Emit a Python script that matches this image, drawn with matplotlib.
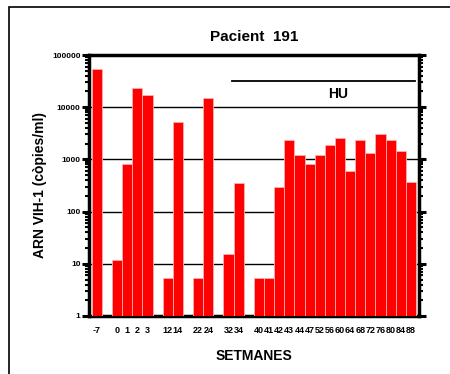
import matplotlib
matplotlib.use("Agg")
import matplotlib.pyplot as plt
import numpy as np
from matplotlib.ticker import LogLocator, NullFormatter, FixedLocator
from matplotlib.patches import Rectangle

plt.rcParams['font.family'] = ['Liberation Sans', 'DejaVu Sans']

# categorical slots ('' = empty gap)
weeks = ['-7', '', '0', '1', '2', '3', '', '12', '14', '', '22', '24', '', '32', '34', '',
         '40', '41', '42', '43', '44', '47', '52', '56', '60', '64', '68', '72', '76', '80', '84', '88']
values = [54800, None, 11.7, 815, 23400, 16900, None, 5.4, 5170, None, 5.4, 14900, None, 15.1, 358, None,
          5.4, 5.4, 292, 2380, 1230, 830, 1210, 1900, 2600, 607, 2380, 1340, 3100, 2380, 1440, 374]
hu_start, hu_end = '32', '88'
hu_level = 31800
title = 'Pacient  191'
ylabel = 'ARN VIH-1 (còpies/ml)'
xlabel = 'SETMANES'

fig = plt.figure(figsize=(4.5, 3.74), dpi=100)
# outer frame
fig.add_artist(Rectangle((9/450, 1 - 380/374), 460/450, (380-7)/374, transform=fig.transFigure,
                         fill=False, edgecolor='black', linewidth=1.2))
ax = fig.add_axes([89/450, 1 - 316/374, 330/450, 261/374])

x = np.arange(len(weeks))
bx = [i for i, v in zip(x, values) if v is not None]
bv = [v for v in values if v is not None]
ax.bar(bx, bv, width=1.0, color='#ff0000', edgecolor='#ffb0b0', linewidth=0.6, zorder=3, bottom=0)

ax.set_yscale('log')
ax.set_ylim(1, 100000)
ax.set_xlim(-0.77, 31.8)

for g in [10, 100, 1000, 10000]:
    ax.axhline(g, color='black', linewidth=1.0, zorder=1)

# HU line
xs = weeks.index(hu_start) + 0.38
xe = weeks.index(hu_end) + 0.45
ax.plot([xs, xe], [hu_level, hu_level], color='black', linewidth=1.3, zorder=4)
ax.text(23.8, 18000, 'HU', ha='center', va='center', fontsize=10, fontweight='bold', zorder=4)

ax.set_xticks(x)
ax.set_xticklabels(weeks, fontsize=6.5, fontweight='bold')
ax.tick_params(axis='x', length=0, pad=7)

ax.yaxis.set_major_locator(FixedLocator([1, 10, 100, 1000, 10000, 100000]))
ax.set_yticklabels(['1', '10', '100', '1000', '10000', '100000'], fontsize=6, fontweight='bold')
ax.yaxis.set_minor_locator(LogLocator(base=10, subs=np.arange(2, 10), numticks=20))
ax.yaxis.set_minor_formatter(NullFormatter())
ax.tick_params(axis='y', which='major', direction='out', length=5, width=2.2, pad=1,
               left=True, right=True)
ax.tick_params(axis='y', which='minor', direction='out', length=3, width=1.5,
               left=True, right=True)

for s in ax.spines.values():
    s.set_linewidth(2.5)

ax.set_title(title, fontsize=11, fontweight='bold', pad=10)
ax.set_ylabel(ylabel, fontsize=10, fontweight='bold', labelpad=4)
ax.set_xlabel(xlabel, fontsize=10, fontweight='bold', labelpad=10)

fig.savefig('out.png', dpi=100)
